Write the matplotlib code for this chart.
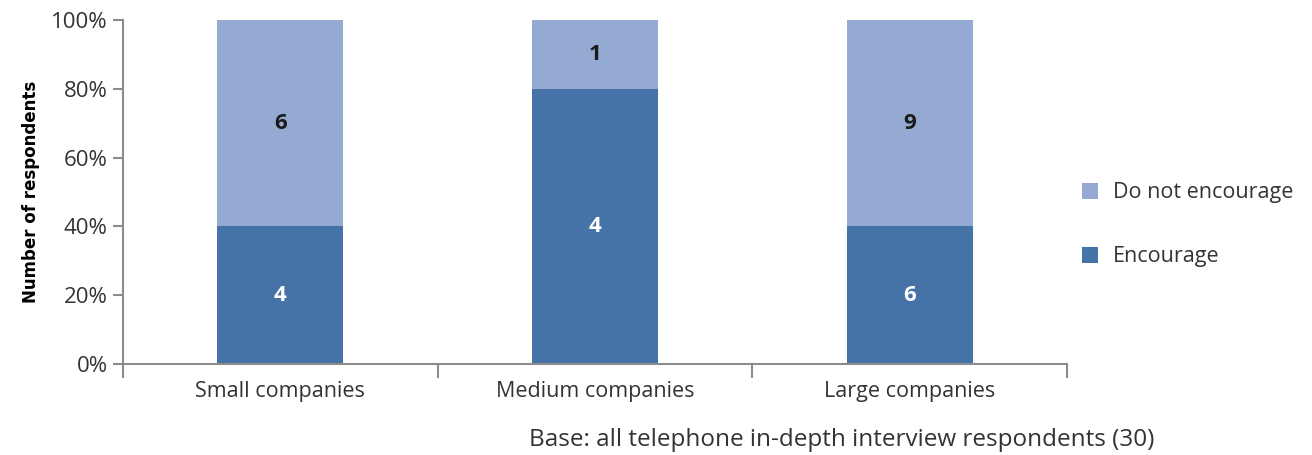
import matplotlib.pyplot as plt
import numpy as np

categories = ['Small companies', 'Medium companies', 'Large companies']
encourage = [4, 4, 6]
do_not_encourage = [6, 1, 9]
yticks = [0, 20, 40, 60, 80, 100]

dark = '#4573a7'
light = '#95aad2'

plt.rcParams['font.family'] = ['Open Sans', 'DejaVu Sans']

enc = np.array(encourage, dtype=float)
dne = np.array(do_not_encourage, dtype=float)
total = enc + dne
enc_pct = enc / total * 100
dne_pct = dne / total * 100

fig = plt.figure(figsize=(13.12, 4.55), dpi=100)
ax = fig.add_axes([0.0937, 0.2, 0.7195, 0.756])

x = np.arange(len(categories))
ax.bar(x, enc_pct, width=0.4, color=dark, label='Encourage')
ax.bar(x, dne_pct, width=0.4, bottom=enc_pct, color=light, label='Do not encourage')

for i in range(len(categories)):
    ax.text(x[i], enc_pct[i] / 2, str(encourage[i]), ha='center', va='center',
            color='white', fontsize=16, fontweight='bold')
    ax.text(x[i], enc_pct[i] + dne_pct[i] / 2, str(do_not_encourage[i]), ha='center',
            va='center', color='#1a1a1a', fontsize=16, fontweight='bold')

ax.set_xlim(-0.5, len(categories) - 0.5)
ax.set_ylim(0, 100)
ax.set_yticks(yticks)
ax.set_yticklabels([f'{v}%' for v in yticks])
ax.set_xticks(np.arange(len(categories) + 1) - 0.5)
ax.set_xticklabels([])
ax.set_xticks(x, minor=True)
ax.set_xticklabels(categories, minor=True)

for s in ['top', 'right']:
    ax.spines[s].set_visible(False)
for s in ['left', 'bottom']:
    ax.spines[s].set_color('#8c8c8c')
    ax.spines[s].set_linewidth(1.5)

ax.tick_params(axis='y', length=7, width=1.5, color='#8c8c8c', labelsize=16,
               labelcolor='#333333', pad=4)
ax.tick_params(axis='x', which='major', length=10, width=1.5, color='#8c8c8c')
ax.tick_params(axis='x', which='minor', length=0, labelsize=15.5,
               labelcolor='#333333', pad=12)

ax.set_ylabel('Number of respondents', fontsize=12, fontweight='bold',
              family=['Liberation Sans Narrow', 'DejaVu Sans'], labelpad=8)

handles, labels = ax.get_legend_handles_labels()
ax.legend(handles[::-1], labels[::-1], loc='center left', bbox_to_anchor=(0.995, 0.405),
          frameon=False, fontsize=15.5, handlelength=0.75, handleheight=0.75,
          labelspacing=2.0, handletextpad=0.7, labelcolor='#333333')

fig.text(0.88, 0.033, 'Base: all telephone in-depth interview respondents (30)',
         ha='right', va='center', fontsize=17.5, color='#333333')

fig.savefig('out.png', dpi=100)
